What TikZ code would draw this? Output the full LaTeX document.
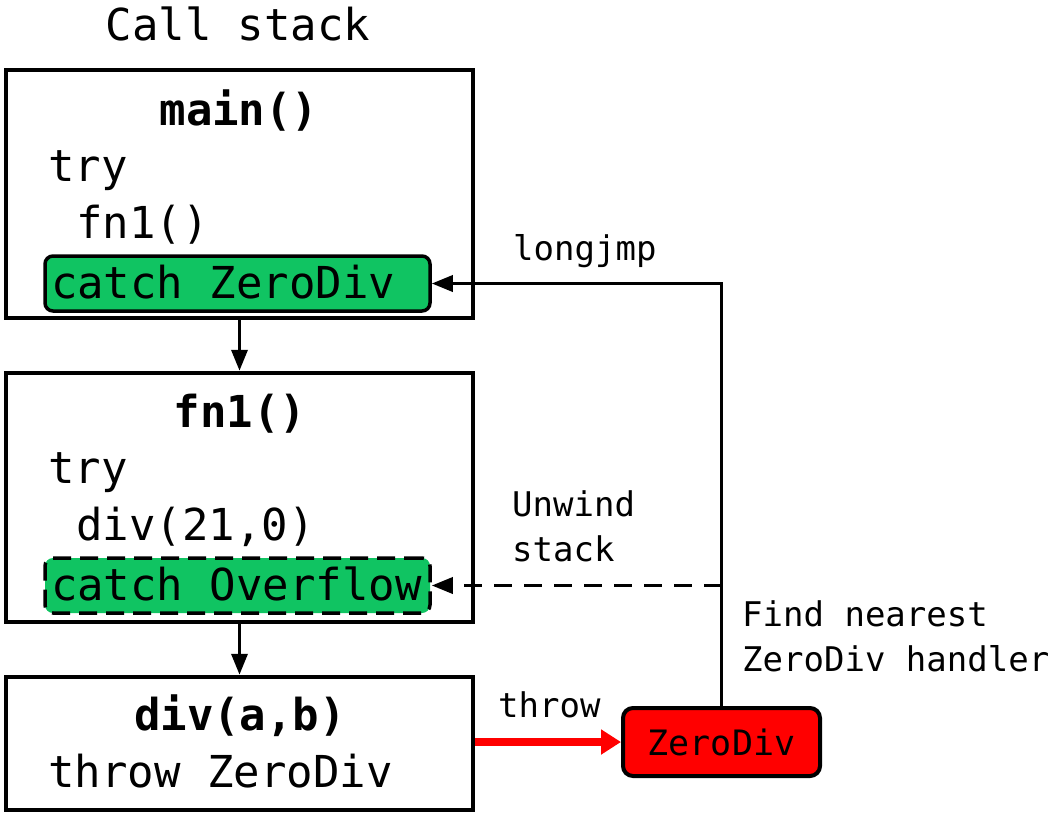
\documentclass[tikz,border=0pt]{standalone}
\usepackage{fontspec}
\setmonofont{DejaVu Sans Mono}
\usetikzlibrary{arrows.meta,positioning}
\definecolor{catchgreen}{HTML}{10C462}
\definecolor{errred}{HTML}{FF0000}

\begin{document}
\begin{tikzpicture}[x=1pt, y=-1pt,
    frame/.style={draw=black, line width=4.5pt, minimum width=467pt, inner sep=0pt},
    handler/.style={draw=black, fill=catchgreen, line width=3.5pt, rounded corners=8pt, minimum width=385pt, minimum height=55pt, inner xsep=6pt, inner ysep=0pt, text width=373pt, align=flush left, text height=35pt, text depth=5pt, font=\ttfamily\fontsize{44}{44}\selectfont},
    errbox/.style={draw=black, fill=errred, line width=4pt, rounded corners=10pt, minimum width=197pt, minimum height=68pt, inner sep=0pt, font=\ttfamily\fontsize{35}{35}\selectfont},
    head/.style={anchor=base, inner sep=0pt, font=\ttfamily\bfseries\fontsize{44}{44}\selectfont},
    code/.style={anchor=base west, inner sep=0pt, font=\ttfamily\fontsize{44}{44}\selectfont},
    note/.style={anchor=north west, inner sep=0pt, align=flush left, font=\ttfamily\fontsize{34}{45}\selectfont},
    arrow/.style={-{Triangle[length=21pt, width=16pt]}, line width=3.5pt, color=black},
    throwarrow/.style={-{Triangle[length=20pt, width=24pt]}, line width=8pt, color=errred}
]
\useasboundingbox (0,0) rectangle (1056,819);

% Title
\node[code, anchor=base] (title) at (238,40) {Call stack};

% Frames
\node[frame, minimum height=248pt] (M) at (239.5,194) {};
\node[frame, minimum height=249pt] (F) at (239.5,497.5) {};
\node[frame, minimum height=133pt] (D) at (239.5,743.5) {};

% Frame contents
\node[head] (mh) at (239,125) {main()};
\node[code] (m1) at (48,181) {try};
\node[code] (m2) at (76,238) {fn1()};
\node[handler] (mc) at (237.5,283.5) {\mbox{catch ZeroDiv}};

\node[head] (fh) at (240,427) {fn1()};
\node[code] (f1) at (48,483) {try};
\node[code] (f2) at (76,540) {div(21,0)};
\node[handler, dash pattern=on 18pt off 9pt] (fc) at (237.5,585.5) {\mbox{catch Overflow}};

\node[head] (dh) at (240,730) {div(a,b)};
\node[code] (d1) at (48,787) {throw ZeroDiv};

% Exception
\node[errbox] (zd) at (721.5,742) {ZeroDiv};
\coordinate (unw) at (zd.north |- fc.east);

% Labels
\node[note] (ljmp) at (513,234) {longjmp};
\node[note] (unwind) at (512,490) {Unwind\\stack};
\node[note] (find) at (742,600) {Find nearest\\ZeroDiv handler};
\node[note] (thr) at (498,691) {throw};

% Connectors
\draw[arrow] (M) -- (F);
\draw[arrow] (F) -- (D);
\draw[throwarrow] (D.east |- zd.west) -- (zd.west);
\draw[arrow] (zd.north) |- (mc.east);
\draw[arrow, dash pattern=on 18pt off 12pt] (unw) -- (fc.east);

\end{tikzpicture}
\end{document}
